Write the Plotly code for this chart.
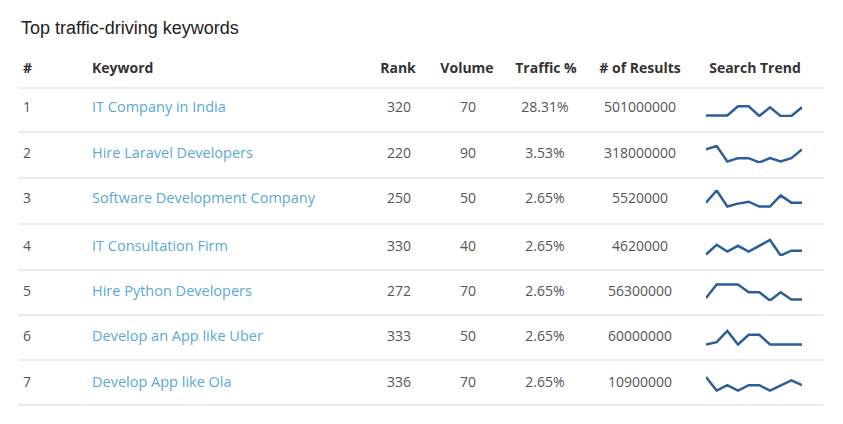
import plotly.graph_objects as go

W, H = 843, 424
OFF = 8  # page body offset
ranks_no = ["1", "2", "3", "4", "5", "6", "7"]
keywords = ["IT Company in India", "Hire Laravel Developers", "Software Development Company",
            "IT Consultation Firm", "Hire Python Developers", "Develop an App like Uber", "Develop App like Ola"]
rank = [320, 220, 250, 330, 272, 333, 336]
volume = [70, 90, 50, 40, 70, 50, 70]
traffic = ["28.31%", "3.53%", "2.65%", "2.65%", "2.65%", "2.65%", "2.65%"]
results = [501000000, 318000000, 5520000, 4620000, 56300000, 60000000, 10900000]
headers = ["#", "Keyword", "Rank", "Volume", "Traffic %", "# of Results", "Search Trend"]
trends = [
    [0, 0, 0, 19, 19, -1, 17, -1, -1, 17],
    [25, 32, 0, 7, 7, -2, 7, 0, 7, 25],
    [8, 33, 0, 6, 10, 0, 0, 23, 8, 8],
    [0, 20, 6, 18, 6, 18, 30, -2, 8, 8],
    [3, 31, 31, 31, 15, 15, -2, 15, 0, 0],
    [0, 5, 28, 0, 20, 20, 0, 0, 0, 0],
    [28, 0, 11, 0, 11, 11, 0, 11, 21, 11],
]

row_y = [108, 154, 199, 247, 292, 337, 383]
header_y = 69
lines_y = [88, 132, 178, 224, 270, 315, 360, 405]

fig = go.Figure()
txt = dict(mode="text", showlegend=False, hoverinfo="skip")
F = "Open Sans, Arial, sans-serif"
dark, gray, blue = "#333333", "#555555", "#5aa9d6"

hx = [27, 96, 398, 467, 546, 640, 755]
hpos = ["middle right", "middle right", "middle center", "middle center", "middle center", "middle center", "middle center"]
fig.add_trace(go.Scatter(x=[x - 4 if p == "middle right" else x for x, p in zip(hx, hpos)], y=[header_y] * 7,
                         text=[f"<b>{h}</b>" for h in headers], textposition=hpos,
                         textfont=dict(family=F, size=14, color=dark), **txt))
fig.add_trace(go.Scatter(x=[23] * 7, y=row_y, text=ranks_no, textposition="middle right",
                         textfont=dict(family=F, size=14, color=gray), **txt))
fig.add_trace(go.Scatter(x=[92] * 7, y=row_y, text=keywords, textposition="middle right",
                         textfont=dict(family=F, size=14.5, color=blue), **txt))
for vals, cx in [([str(v) for v in rank], 399), ([str(v) for v in volume], 468),
                 (traffic, 545), ([str(v) for v in results], 640)]:
    fig.add_trace(go.Scatter(x=[cx] * 7, y=row_y, text=vals, textposition="middle center",
                             textfont=dict(family=F, size=14, color=gray), **txt))

shapes = [dict(type="line", xref="x", yref="y", x0=18, x1=823, y0=ly, y1=ly,
               line=dict(color="#e3e3e3", width=1.5)) for ly in lines_y]

layout = dict(width=W, height=H, margin=dict(l=0, r=0, t=0, b=0),
              paper_bgcolor="white", plot_bgcolor="white",
              xaxis=dict(range=[OFF, W + OFF], visible=False, domain=[0, 1]),
              yaxis=dict(range=[H + OFF, OFF], visible=False, domain=[0, 1]),
              shapes=shapes,
              annotations=[dict(text="Top traffic-driving keywords", x=19, y=28, xref="x", yref="y",
                                xanchor="left", yanchor="middle", showarrow=False,
                                font=dict(family="Arial, Liberation Sans, sans-serif", size=18, color="#222"))])

for i, (t, ry) in enumerate(zip(trends, row_y)):
    k = i + 2
    fig.add_trace(go.Scatter(x=list(range(len(t))), y=t, mode="lines", showlegend=False, hoverinfo="skip",
                             line=dict(color="#2c5f99", width=2.5), xaxis=f"x{k}", yaxis=f"y{k}"))
    cy = ry - OFF
    layout[f"xaxis{k}"] = dict(domain=[(706 - OFF) / W, (802 - OFF) / W], range=[0, 9], visible=False, anchor=f"y{k}")
    layout[f"yaxis{k}"] = dict(domain=[(H - (cy + 9)) / H, (H - (cy - 9)) / H],
                               range=[-3, 34], visible=False, anchor=f"x{k}")

fig.update_layout(**layout)
fig.write_html("out.html")
